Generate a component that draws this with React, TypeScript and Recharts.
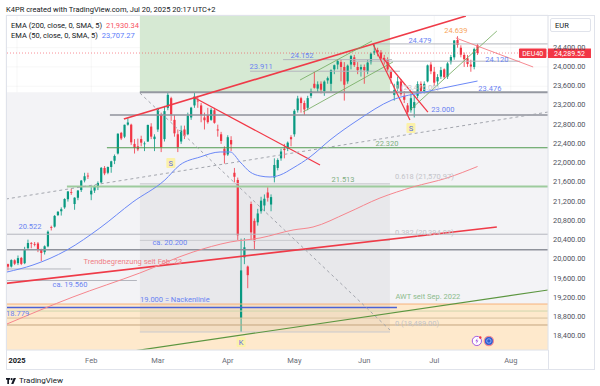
import React from "react";
import {
  ComposedChart,
  Bar,
  Line,
  XAxis,
  YAxis,
  CartesianGrid,
  ReferenceLine,
  ReferenceArea,
  ReferenceDot,
} from "recharts";

const FONT = "Roboto, 'Noto Sans', sans-serif";

// ---- daily candles DEU40 ----
const dates = [
  "2024-12-23", "2024-12-27", "2024-12-30",
  "2025-01-02", "2025-01-03", "2025-01-06", "2025-01-07", "2025-01-08", "2025-01-09", "2025-01-10",
  "2025-01-13", "2025-01-14", "2025-01-15", "2025-01-16", "2025-01-17", "2025-01-20", "2025-01-21",
  "2025-01-22", "2025-01-23", "2025-01-24", "2025-01-27", "2025-01-28", "2025-01-29", "2025-01-30", "2025-01-31",
  "2025-02-03", "2025-02-04", "2025-02-05", "2025-02-06", "2025-02-07", "2025-02-10", "2025-02-11",
  "2025-02-12", "2025-02-13", "2025-02-14", "2025-02-17", "2025-02-18", "2025-02-19", "2025-02-20",
  "2025-02-21", "2025-02-24", "2025-02-25", "2025-02-26", "2025-02-27", "2025-02-28",
  "2025-03-03", "2025-03-04", "2025-03-05", "2025-03-06", "2025-03-07", "2025-03-10", "2025-03-11",
  "2025-03-12", "2025-03-13", "2025-03-14", "2025-03-17", "2025-03-18", "2025-03-19", "2025-03-20",
  "2025-03-21", "2025-03-24", "2025-03-25", "2025-03-26", "2025-03-27", "2025-03-28", "2025-03-31",
  "2025-04-01", "2025-04-02", "2025-04-03", "2025-04-04", "2025-04-07", "2025-04-08", "2025-04-09",
  "2025-04-10", "2025-04-11", "2025-04-14", "2025-04-15", "2025-04-16", "2025-04-17", "2025-04-22",
  "2025-04-23", "2025-04-24", "2025-04-25", "2025-04-28", "2025-04-29", "2025-04-30",
  "2025-05-02", "2025-05-05", "2025-05-06", "2025-05-07", "2025-05-08", "2025-05-09", "2025-05-12",
  "2025-05-13", "2025-05-14", "2025-05-15", "2025-05-16", "2025-05-19", "2025-05-20", "2025-05-21",
  "2025-05-22", "2025-05-23", "2025-05-26", "2025-05-27", "2025-05-28", "2025-05-29", "2025-05-30",
  "2025-06-02", "2025-06-03", "2025-06-04", "2025-06-05", "2025-06-06", "2025-06-09", "2025-06-10",
  "2025-06-11", "2025-06-12", "2025-06-13", "2025-06-16", "2025-06-17", "2025-06-18", "2025-06-19",
  "2025-06-20", "2025-06-23", "2025-06-24", "2025-06-25", "2025-06-26", "2025-06-27", "2025-06-30",
  "2025-07-01", "2025-07-02", "2025-07-03", "2025-07-04", "2025-07-07", "2025-07-08", "2025-07-09",
  "2025-07-10", "2025-07-11", "2025-07-14", "2025-07-15", "2025-07-16", "2025-07-17", "2025-07-18",
];

const opens = [
  19900, 19850, 19980,
  19920, 20030, 19920, 20230, 20340, 20320, 20330, 20210, 20150, 20270, 20670, 20680, 20920, 21000,
  21080, 21250, 21400, 21150, 21280, 21440, 21640, 21740,
  21350, 21430, 21500, 21600, 21900, 21800, 21920, 22050, 22200, 22630, 22550, 22800, 22800, 22400,
  22350, 22500, 22400, 22450, 22760, 22500,
  22700, 23000, 22500, 23150, 23350, 22900, 22600, 22450, 22700, 22600, 22950, 23200, 23300, 23200,
  22950, 23000, 22900, 23100, 22700, 22600, 22300,
  22180, 22480, 21800, 21650, 18780, 20040, 19850, 21150, 20800, 20770, 21000, 21120, 21390, 21140,
  21700, 21900, 22100, 22300, 22300, 22540,
  22600, 23100, 23350, 23250, 23150, 23400, 23650, 23550, 23650, 23500, 23720, 23650, 23950, 24050,
  24100, 24000, 23700, 24050, 24200, 24000, 23950,
  24000, 23900, 24100, 24300, 24350, 24300, 24180, 24150, 23900, 23420, 23550, 23700, 23400, 23200,
  23100, 23150, 23400, 23650, 23500, 23700, 24050,
  23900, 23700, 23800, 23950, 23800, 24100, 24200, 24560, 24400, 24250, 24180, 24050, 24000, 24450,
];

const highs = [
  19910, 20000, 20000,
  20080, 20050, 20260, 20410, 20360, 20360, 20360, 20220, 20290, 20600, 20700, 20920, 21000, 21080,
  21270, 21420, 21470, 21290, 21440, 21650, 21800, 21800,
  21500, 21540, 21620, 21920, 21940, 21930, 22050, 22180, 22620, 22650, 22800, 22935, 22820, 22500,
  22510, 22570, 22450, 22800, 22830, 22600,
  23150, 23050, 23190, 23476, 23380, 23000, 22700, 22780, 22780, 23050, 23170, 23476, 23400, 23250,
  23050, 23150, 23150, 23150, 22800, 22650, 22350,
  22580, 22560, 21900, 21700, 20430, 20440, 19870, 21200, 20850, 21050, 21300, 21350, 21500, 21350,
  22100, 22100, 22300, 22400, 22450, 22580,
  23120, 23400, 23380, 23300, 23400, 23550, 23900, 23700, 23700, 23720, 23800, 23950, 24050, 24150,
  24150, 24100, 24050, 24250, 24250, 24100, 24050,
  24050, 24150, 24300, 24479, 24400, 24350, 24250, 24200, 23950, 23650, 23800, 23750, 23500, 23250,
  23450, 23400, 23700, 23700, 23700, 24050, 24100,
  24000, 23850, 24000, 23970, 24100, 24250, 24560, 24639, 24450, 24300, 24250, 24150, 24400, 24480,
];

const lows = [
  19770, 19830, 19880,
  19880, 19880, 19900, 20220, 20230, 20270, 20150, 19960, 20100, 20250, 20600, 20660, 20900, 20910,
  21050, 21200, 21340, 21030, 21230, 21400, 21600, 21670,
  21230, 21380, 21440, 21580, 21750, 21770, 21800, 21980, 22180, 22480, 22520, 22780, 22380, 22200,
  22250, 22350, 22250, 22440, 22500, 22250,
  22650, 22230, 22450, 23100, 22880, 22550, 22230, 22400, 22500, 22580, 22900, 23150, 23150, 22850,
  22700, 22820, 22880, 22820, 22550, 22400, 21990,
  22150, 22250, 21600, 20400, 18489, 19900, 19400, 20400, 20200, 20700, 20950, 21000, 21200, 21000,
  21600, 21850, 22050, 22100, 22250, 22350,
  22550, 23050, 23050, 23000, 23100, 23350, 23550, 23480, 23450, 23400, 23650, 23500, 23850, 23950,
  23700, 23300, 23650, 23950, 24000, 23850, 23800,
  23650, 23850, 24050, 24250, 24220, 24150, 24050, 23900, 23650, 23300, 23500, 23400, 23250, 23000,
  23050, 22950, 23350, 23450, 23450, 23680, 23850,
  23600, 23600, 23750, 23750, 23750, 24050, 24150, 24400, 24200, 24000, 24000, 23900, 23950, 24250,
];

const closes = [
  19848, 19984, 19909,
  20025, 19906, 20216, 20340, 20329, 20317, 20215, 20133, 20271, 20574, 20655, 20903, 20990, 21042,
  21254, 21411, 21394, 21282, 21430, 21637, 21727, 21732,
  21428, 21505, 21586, 21902, 21787, 21919, 22038, 22149, 22612, 22513, 22798, 22845, 22433, 22314,
  22287, 22426, 22410, 22794, 22551, 22551,
  23147, 22327, 23081, 23419, 23009, 22620, 22329, 22676, 22567, 22987, 23154, 23380, 23288, 22999,
  22892, 22852, 23109, 22839, 22679, 22461, 22163,
  22539, 22390, 21717, 20500, 19770, 20250, 19671, 20562, 20374, 20954, 21220, 21260, 21280, 21294,
  21962, 22065, 22242, 22272, 22426, 22497,
  23087, 23345, 23249, 23116, 23352, 23499, 23567, 23638, 23527, 23695, 23767, 23934, 24036, 24122,
  23999, 23630, 24027, 24226, 24038, 23933, 23997,
  23930, 24091, 24276, 24323, 24304, 24174, 24162, 23949, 23771, 23516, 23699, 23434, 23317, 23057,
  23350, 23269, 23641, 23498, 23649, 24033, 23910,
  23673, 23790, 23934, 23787, 24073, 24207, 24550, 24456, 24255, 24161, 24060, 24009, 24371, 24289.52,
];

// bar index 0 = 2 Jan 2025
const candles = dates.map((date, k) => ({
  i: k - 3,
  date,
  open: opens[k],
  high: highs[k],
  low: lows[k],
  close: closes[k],
}));

// ---- moving averages, sampled along the drawn curves ----
const ema200Idx = [-3.3, 16.5, 36.6, 52.6, 63.7, 72.7, 82.6, 88.6, 98.8, 108.7, 118.6, 128.8, 138];
const ema200Val = [18656, 19217, 19716, 20153, 20360, 20444, 20610, 20672, 20963, 21275, 21504, 21691, 21930.34];
const ema50Idx = [-3.3, 4.5, 14.7, 24.6, 34.5, 44.1, 48.6, 54.7, 60.7, 63.7, 66.7, 69.7, 72.7, 75.7, 78.7, 82.6, 87.7, 93.7, 102.1, 112.3, 122.2, 132.1, 138];
const ema50Val = [19737, 19882, 20194, 20652, 21192, 21649, 21961, 22128, 22232, 22232, 22024, 21816, 21733, 21712, 21753, 21899, 22128, 22481, 22897, 23313, 23479, 23625, 23707.27];
const ema200 = ema200Idx.map((i, k) => ({ i, v: ema200Val[k] }));
const ema50 = ema50Idx.map((i, k) => ({ i, v: ema50Val[k] }));

// ---- axes ----
const monthTicks = [-0.3, 22, 42, 63, 83, 104, 125, 148];
const monthLabels = ["2025", "Feb", "Mar", "Apr", "May", "Jun", "Jul", "Aug"];
const priceTicks = [18400, 18800, 19200, 19600, 20000, 20400, 20800, 21200, 21600, 22000, 22400, 22800, 23200, 23600, 24000, 24400];
const X_MIN = -3.6;
const X_MAX = 159.16;
const P_MIN = 18115;
const P_MAX = 25080;
const lastPrice = 24289.52;

// ---- drawings ----
const levels = [
  { p: 24479, from: 106.3, to: X_MAX, kind: "gray" },
  { p: 24152, from: 79.6, to: 112.3, kind: "gray" },
  { p: 24120, from: 100, to: 150.8, kind: "gray" },
  { p: 23911, from: 69.7, to: 114.7, kind: "gray" },
  { p: 23476, from: 36.6, to: X_MAX, kind: "grayBold" },
  { p: 23000, from: 27.6, to: X_MAX, kind: "grayDark" },
  { p: 22320, from: 26.7, to: X_MAX, kind: "green" },
  { p: 21571, from: 36.6, to: 111.7, kind: "fib" },
  { p: 21513, from: 14.7, to: X_MAX, kind: "greenBold" },
  { p: 20522, from: X_MIN, to: X_MAX, kind: "gray" },
  { p: 20394, from: 36.6, to: 111.7, kind: "fib" },
  { p: 20200, from: X_MIN, to: X_MAX, kind: "grayDark" },
  { p: 19800, from: X_MIN, to: 15.9, kind: "gray" },
  { p: 19560, from: X_MIN, to: 35.7, kind: "gray" },
  { p: 19071, from: X_MIN, to: X_MAX, kind: "orange" },
  { p: 19000, from: X_MIN, to: 113.8, kind: "blue" },
  { p: 18925, from: X_MIN, to: X_MAX, kind: "sage" },
  { p: 18779, from: X_MIN, to: X_MAX, kind: "tan" },
  { p: 18635, from: X_MIN, to: X_MAX, kind: "brown" },
  { p: 18489, from: 36.6, to: 111.7, kind: "fib" },
];

const trendLines = [
  { i1: 31.8, p1: 22918, i2: 134.5, p2: 25059, kind: "redBold" },
  { i1: 52.6, p1: 23375, i2: 90.7, p2: 21961, kind: "red" },
  { i1: -5.4, p1: 19487, i2: 143.8, p2: 20672, kind: "redBold" },
  { i1: 30, p1: 18047, i2: 159.2, p2: 19363, kind: "awt" },
  { i1: -5.4, p1: 21234, i2: 159.2, p2: 23063, kind: "dash" },
  { i1: 36.6, p1: 23458, i2: 111.7, p2: 18531, kind: "dash" },
  { i1: 84.7, p1: 23728, i2: 106.3, p2: 24539, kind: "greenThin" },
  { i1: 85.6, p1: 23063, i2: 112.6, p2: 24103, kind: "greenThin" },
  { i1: 117.7, p1: 23104, i2: 143.8, p2: 24747, kind: "greenThin" },
  { i1: 131.5, p1: 24602, i2: 154.7, p2: 23999, kind: "redThin" },
  { i1: 106.6, p1: 24477, i2: 117.7, p2: 22897, kind: "red" },
  { i1: 109.6, p1: 24186, i2: 123.1, p2: 23063, kind: "red" },
];

const tags = [
  { i: 120.7, p: 24560, text: "24.479", kind: "blue" },
  { i: 85.3, p: 24248, text: "24.152", kind: "blue" },
  { i: 73.0, p: 23999, text: "23.911", kind: "blue" },
  { i: 143.8, p: 24165, text: "24.120", kind: "blue" },
  { i: 141.7, p: 23562, text: "23.476", kind: "blue" },
  { i: 127.6, p: 23105, text: "23.000", kind: "blue" },
  { i: 110.8, p: 22398, text: "22.320", kind: "green" },
  { i: 97.6, p: 21670, text: "21.513", kind: "green" },
  { i: 3.6, p: 20673, text: "20.522", kind: "blue" },
  { i: 45.6, p: 20340, text: "ca. 20.200", kind: "blue" },
  { i: 15.6, p: 19487, text: "ca. 19.560", kind: "blue" },
  { i: 47.1, p: 19175, text: "19.000 = Nackenlinie", kind: "blue" },
  { i: -0.1, p: 18884, text: "18.779", kind: "blue" },
  { i: 34.5, p: 19945, text: "Trendbegrenzung seit Feb. 23", kind: "red" },
  { i: 123.1, p: 19217, text: "AWT seit Sep. 2022", kind: "awt" },
  { i: 131.5, p: 24768, text: "24.639", kind: "orange" },
];

const fibTags = [
  { p: 23583, text: "1 (23,476.00)" },
  { p: 21712, text: "0.618 (21,570.97)" },
  { p: 20548, text: "0.382 (20,394.03)" },
  { p: 18656, text: "0 (18,489.00)" },
];

const badges = [
  { i: 45.9, p: 22003, text: "S" },
  { i: 118.0, p: 22731, text: "S" },
  { i: 67.0, p: 18282, text: "K" },
];

const lineStyle: Record<string, any> = {
  gray: { stroke: "#b4b6be", strokeWidth: 1 },
  grayBold: { stroke: "#9598a1", strokeWidth: 2 },
  grayDark: { stroke: "#8f929b", strokeWidth: 1.5 },
  green: { stroke: "#4f9a4f", strokeWidth: 1.2 },
  greenBold: { stroke: "#9dcb9d", strokeWidth: 2 },
  blue: { stroke: "#4b62d6", strokeWidth: 1.5 },
  orange: { stroke: "#f6b27c", strokeWidth: 1 },
  sage: { stroke: "#cfd6ad", strokeWidth: 1 },
  tan: { stroke: "#d6c09c", strokeWidth: 1 },
  brown: { stroke: "#c4a57f", strokeWidth: 1 },
  fib: { stroke: "#c9cace", strokeWidth: 1 },
  red: { stroke: "#f23645", strokeWidth: 1.2 },
  redBold: { stroke: "#ef3b48", strokeWidth: 1.6 },
  redThin: { stroke: "#f57d86", strokeWidth: 0.9 },
  greenThin: { stroke: "#6ea85a", strokeWidth: 0.8 },
  awt: { stroke: "#5c9640", strokeWidth: 1.2 },
  dash: { stroke: "#a3a6ae", strokeWidth: 1, strokeDasharray: "3 3" },
};

const tagColor: Record<string, string> = {
  blue: "#6a83f2",
  green: "#7fae7f",
  red: "#f07f86",
  awt: "#8dbb8d",
  orange: "#f7a45b",
};

const fmtPrice = (v: number) =>
  v.toLocaleString("en-US", { minimumFractionDigits: 2, maximumFractionDigits: 2 });

function Candle(props: any) {
  const { x, y, width, height, payload } = props;
  if (!payload || height == null) return null;
  const top = height < 0 ? y + height : y;
  const h = Math.abs(height);
  const { open, high, low, close } = payload;
  const color = close >= open ? "#089981" : "#f23645";
  const cx = x + width / 2;
  const k = h / Math.max(high - low, 1);
  const b1 = top + (high - Math.max(open, close)) * k;
  const b2 = top + (high - Math.min(open, close)) * k;
  return (
    <g>
      <line x1={cx} x2={cx} y1={top} y2={top + h} stroke={color} strokeWidth={0.8} />
      <rect x={cx - 1.1} y={b1} width={2.2} height={Math.max(0.8, b2 - b1)} fill={color} />
    </g>
  );
}

const textShape =
  (text: string, color: string, anchor: "start" | "middle" = "middle", size = 7.5) =>
  (p: any) =>
    (
      <text x={p.cx} y={p.cy} fill={color} fontSize={size} fontFamily={FONT} textAnchor={anchor} dominantBaseline="central">
        {text}
      </text>
    );

const badgeShape = (text: string) => (p: any) =>
  (
    <g>
      <rect x={p.cx - 4.5} y={p.cy - 5} width={9} height={10} fill="#fbf1a9" rx={1} />
      <text x={p.cx} y={p.cy + 0.5} fill="#5b6ee1" fontSize={7.5} fontFamily={FONT} textAnchor="middle" dominantBaseline="central">
        {text}
      </text>
    </g>
  );

const priceTagShape = (p: any) => (
  <g>
    <rect x={p.cx - 28.5} y={p.cy - 4.5} width={27.5} height={9.5} fill="#f23645" rx={1} />
    <text x={p.cx - 14.7} y={p.cy + 0.5} fill="#fff" fontSize={7} fontFamily={FONT} textAnchor="middle" dominantBaseline="central">
      DEU40
    </text>
    <rect x={p.cx + 0.5} y={p.cy - 4.5} width={43} height={9.5} fill="#f23645" />
    <text x={p.cx + 22} y={p.cy + 0.8} fill="#fff" fontSize={7} fontFamily={FONT} textAnchor="middle" dominantBaseline="central">
      {fmtPrice(lastPrice)}
    </text>
  </g>
);

const eventShape = (p: any) => (
  <g>
    <circle cx={p.cx} cy={p.cy} r={4.6} fill="#fff" stroke="#a55ce0" strokeWidth={1} />
    <path d={`M${p.cx + 0.8},${p.cy - 3} L${p.cx - 1.6},${p.cy + 0.4} L${p.cx},${p.cy + 0.4} L${p.cx - 0.8},${p.cy + 3} L${p.cx + 1.6},${p.cy - 0.4} L${p.cx},${p.cy - 0.4} Z`} fill="#a55ce0" />
    <circle cx={p.cx + 3.4} cy={p.cy - 3.4} r={1.2} fill="#f23645" />
    <circle cx={p.cx + 12} cy={p.cy} r={4.6} fill="#2f5fd0" stroke="#f58a92" strokeWidth={1.2} />
    <circle cx={p.cx + 12} cy={p.cy} r={2.2} fill="none" stroke="#9fb8ff" strokeWidth={0.8} />
  </g>
);

function TimeTick({ x, payload }: any) {
  const k = monthTicks.indexOf(payload.value);
  const label = monthLabels[k] ?? "";
  const bold = label === "2025";
  return (
    <text x={x} y={360} textAnchor="middle" dominantBaseline="central" fontSize={7.5} fontFamily={FONT} fontWeight={bold ? 700 : 400} fill={bold ? "#131722" : "#6a6d78"}>
      {label}
    </text>
  );
}

function PriceTick({ x, y, payload }: any) {
  return (
    <text x={x} y={y - 0.5} textAnchor="start" dominantBaseline="central" fontSize={7.4} fontFamily={FONT} fill="#50535e">
      {fmtPrice(payload.value)}
    </text>
  );
}

export default function App() {
  return (
    <div style={{ position: "absolute", left: 0, top: 0, width: 600, height: 386, background: "#fff", fontFamily: FONT, overflow: "hidden" }}>
      <ComposedChart width={600} height={386} data={candles} margin={{ top: 15, right: 6, bottom: 17, left: 6 }}>
        <XAxis
          dataKey="i"
          type="number"
          domain={[X_MIN, X_MAX]}
          allowDataOverflow
          ticks={monthTicks}
          interval={0}
          tick={<TimeTick />}
          tickLine={false}
          tickSize={0}
          height={19}
          axisLine={{ stroke: "#e0e3eb" }}
        />
        <YAxis
          orientation="right"
          type="number"
          domain={[P_MIN, P_MAX]}
          allowDataOverflow
          ticks={priceTicks}
          interval={0}
          tick={<PriceTick />}
          tickLine={false}
          tickSize={0}
          tickMargin={5}
          width={46}
          axisLine={{ stroke: "#e0e3eb" }}
        />

        {/* background zones */}
        <ReferenceArea x1={X_MIN} x2={X_MAX} y1={19071} y2={23476} fill="#f3f3f6" fillOpacity={1} ifOverflow="hidden" />
        <ReferenceArea x1={X_MIN} x2={X_MAX} y1={P_MIN} y2={19071} fill="#fee9cc" fillOpacity={1} ifOverflow="hidden" />
        <ReferenceArea x1={36.6} x2={111.7} y1={18489} y2={21571} fill="#000" fillOpacity={0.045} ifOverflow="hidden" />
        <ReferenceArea x1={36.6} x2={111.7} y1={23476} y2={P_MAX} fill="#d6e9d3" fillOpacity={1} ifOverflow="hidden" />

        <CartesianGrid stroke="#000" strokeOpacity={0.035} />

        {levels.map((l, k) => (
          <ReferenceLine key={`l${k}`} segment={[{ x: l.from, y: l.p }, { x: l.to, y: l.p }]} {...lineStyle[l.kind]} ifOverflow="hidden" />
        ))}
        {trendLines.map((t, k) => (
          <ReferenceLine key={`t${k}`} segment={[{ x: t.i1, y: t.p1 }, { x: t.i2, y: t.p2 }]} {...lineStyle[t.kind]} ifOverflow="hidden" />
        ))}
        <ReferenceLine y={lastPrice} stroke="#f23645" strokeOpacity={0.7} strokeWidth={0.8} strokeDasharray="1 2" ifOverflow="hidden" />

        <Line data={ema200} dataKey="v" type="monotone" stroke="#f6868e" strokeWidth={1} dot={false} activeDot={false} isAnimationActive={false} />
        <Line data={ema50} dataKey="v" type="monotone" stroke="#6b88f7" strokeWidth={1} dot={false} activeDot={false} isAnimationActive={false} />

        <Bar dataKey={(d: any) => [d.low, d.high]} barSize={3} shape={<Candle />} isAnimationActive={false} />

        {tags.map((t, k) => (
          <ReferenceDot key={`g${k}`} x={t.i} y={t.p} r={0} shape={textShape(t.text, tagColor[t.kind])} ifOverflow="visible" />
        ))}
        {fibTags.map((t, k) => (
          <ReferenceDot key={`f${k}`} x={113.2} y={t.p} r={0} shape={textShape(t.text, "#c3c4c9", "start")} ifOverflow="visible" />
        ))}
        {badges.map((b, k) => (
          <ReferenceDot key={`b${k}`} x={b.i} y={b.p} r={0} shape={badgeShape(b.text)} ifOverflow="visible" />
        ))}
        <ReferenceDot x={137.8} y={18303} r={0} shape={eventShape} ifOverflow="visible" />
        <ReferenceDot x={159} y={lastPrice} r={0} shape={priceTagShape} ifOverflow="visible" />
      </ComposedChart>

      {/* header and legend */}
      <div style={{ position: "absolute", left: 6, top: 5, fontSize: 7.5, lineHeight: "10px", color: "#131722", whiteSpace: "nowrap" }}>
        K4PR created with TradingView.com, Jul 20, 2025 20:17 UTC+2
      </div>
      <div style={{ position: "absolute", left: 11, top: 20.5, fontSize: 7.5, lineHeight: "10px", color: "#131722", whiteSpace: "nowrap" }}>
        EMA (200, close, 0, SMA, 5) <span style={{ color: "#f7525f", marginLeft: 2 }}>21,930.34</span>
      </div>
      <div style={{ position: "absolute", left: 11, top: 31, fontSize: 7.5, lineHeight: "10px", color: "#131722", whiteSpace: "nowrap" }}>
        EMA (50, close, 0, SMA, 5) <span style={{ color: "#5b7cfa", marginLeft: 2 }}>23,707.27</span>
      </div>

      {/* frame */}
      <div style={{ position: "absolute", left: 6, top: 15, width: 587, height: 353, border: "1px solid #e0e3eb", pointerEvents: "none" }} />
      <div style={{ position: "absolute", left: 548, top: 350, width: 1, height: 19, background: "#e0e3eb" }} />
      <div style={{ position: "absolute", left: 550, top: 18, width: 41, height: 14, border: "1px solid #e0e3eb", borderRadius: 2, background: "#fff", fontSize: 7.5, lineHeight: "14px", color: "#131722", paddingLeft: 4, boxSizing: "border-box" }}>
        EUR
      </div>

      {/* footer */}
      <div style={{ position: "absolute", left: 6, top: 376, display: "flex", alignItems: "center", gap: 3 }}>
        <svg width={10} height={6} viewBox="0 0 10 6">
          <rect x={0} y={0} width={4} height={1.7} fill="#131722" />
          <rect x={1.3} y={0} width={1.7} height={6} fill="#131722" />
          <circle cx={5.6} cy={1.1} r={1.1} fill="#131722" />
          <polygon points="7.6,0 10,0 7.4,6 5.2,6" fill="#131722" />
        </svg>
        <span style={{ fontSize: 8, lineHeight: "10px", color: "#131722" }}>TradingView</span>
      </div>
    </div>
  );
}
